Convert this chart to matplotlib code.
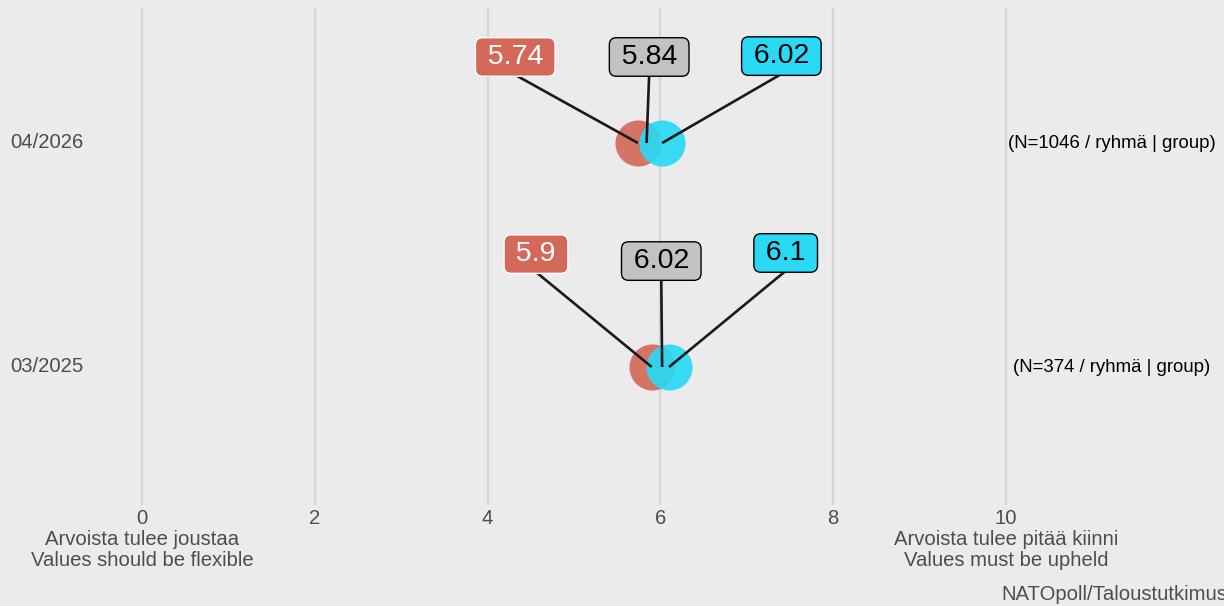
import matplotlib.pyplot as plt
import matplotlib.transforms as mtransforms

plt.rcParams['font.family'] = ['Liberation Sans', 'DejaVu Sans']

# data
periods = ['04/2026', '03/2025']
n_labels = ['(N=1046 / ryhmä | group)', '(N=374 / ryhmä | group)']
red_vals = [5.74, 5.9]
grey_vals = [5.84, 6.02]
cyan_vals = [6.02, 6.1]
xticks = [0, 2, 4, 6, 8, 10]
xtick_labels = ['0\nArvoista tulee joustaa\nValues should be flexible', '2', '4', '6', '8',
                '10\nArvoista tulee pitää kiinni\nValues must be upheld']
source = 'NATOpoll/Taloustutkimus'

# label placement (layout, like a repel step)
red_lab_x = [4.32, 4.56]
grey_lab_x = [5.87, 6.01]
cyan_lab_x = [7.40, 7.45]
red_lab_dy = [0.384, 0.504]
grey_lab_dy = [0.384, 0.473]
cyan_lab_dy = [0.388, 0.509]
box_half = 0.08  # half box height in data units

bg = '#EBEBEB'
red = '#D4695A'
cyan = '#2BD9F5'
greybox = '#C2C2C2'
txt = '#4D4D4D'

W, H = 1224, 606
fig = plt.figure(figsize=(W / 100, H / 100), dpi=100, facecolor=bg)
ax = fig.add_axes([95 / W, (H - 505) / H, 1 - 95 / W, 497 / H])
ax.set_facecolor(bg)

px = 86.4  # pixels per unit
ax.set_xlim((95 - 142) / px, (W - 142) / px)
ax.set_ylim(1 - 138 / 224, 2 + 135 / 224)

for x in xticks:
    ax.axvline(x, color='#D5D5D5', lw=1.6, zorder=0)

ypos = [2, 1]
ax.scatter(red_vals, ypos, s=1100, color=red, alpha=0.92, lw=0, zorder=2)
ax.scatter(cyan_vals, ypos, s=1100, color=cyan, alpha=0.92, lw=0, zorder=3)

for i, y in enumerate(ypos):
    groups = [(red_vals[i], red_lab_x[i], red_lab_dy[i], red, 'white', 'white'),
              (grey_vals[i], grey_lab_x[i], grey_lab_dy[i], greybox, 'black', 'black'),
              (cyan_vals[i], cyan_lab_x[i], cyan_lab_dy[i], cyan, 'black', 'black')]
    for val, lx, dy, fc, tc, ec in groups:
        ax.plot([lx, val], [y + dy - box_half, y], color='#1A1A1A', lw=1.9, zorder=4,
                solid_capstyle='butt')
        ax.text(lx, y + dy, '\u2009' + f'{val:g}' + '\u2009', ha='center', va='center',
                fontsize=20.5, color=tc, zorder=5,
                bbox=dict(boxstyle='round,pad=0.22,rounding_size=0.25', fc=fc, ec=ec, lw=1.0))
    ax.text(11.22, y, n_labels[i], ha='center', va='center', fontsize=13.4, color='black')

trans = mtransforms.blended_transform_factory(fig.transFigure, ax.transData)
for p, y in zip(periods, ypos):
    ax.text(10 / W, y, p, transform=trans, ha='left', va='center', fontsize=14.6, color=txt)

ax.set_yticks([])
ax.set_xticks(xticks)
ax.set_xticklabels(xtick_labels, fontsize=14.6, color=txt)
for t in ax.get_xticklabels():
    t.set_linespacing(1.12)
ax.tick_params(axis='x', length=0, pad=3)
for s in ax.spines.values():
    s.set_visible(False)

fig.text(1001 / W, 1 - 595 / H, source, ha='left', va='center', fontsize=14.6, color=txt)

fig.savefig('out.png', dpi=100, facecolor=bg)
